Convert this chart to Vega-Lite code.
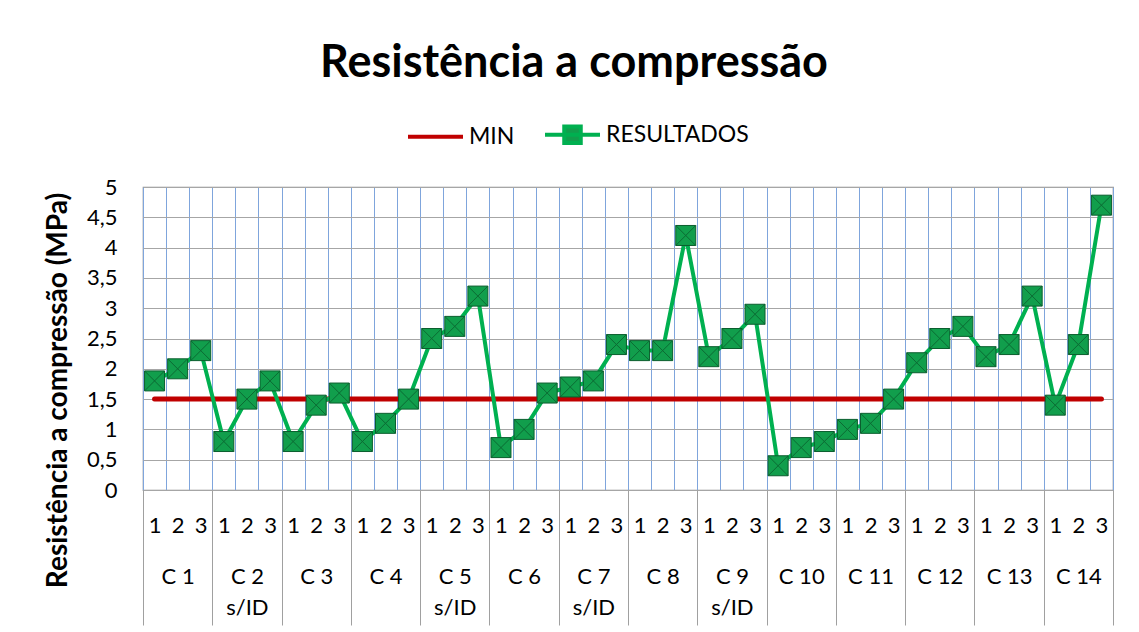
{
  "$schema": "https://vega.github.io/schema/vega-lite/v6.json",
  "width": 970,
  "height": 303,
  "autosize": {"type": "none"},
  "padding": {"left": 143, "top": 187, "right": 26, "bottom": 142},
  "background": "white",
  "title": {"text": "Resistência a compressão", "font": "Lato", "fontSize": 45, "fontWeight": "bold", "color": "#000000", "anchor": "middle", "frame": "group", "dx": -54, "offset": 19},
  "data": {"values": [
    {"key": "C1-1", "g": "C 1", "v": 1.8, "min": 1.5},
    {"key": "C1-2", "g": "C 1", "v": 2.0, "min": 1.5},
    {"key": "C1-3", "g": "C 1", "v": 2.3, "min": 1.5},
    {"key": "C2-1", "g": "C 2|s/ID", "v": 0.8, "min": 1.5},
    {"key": "C2-2", "g": "C 2|s/ID", "v": 1.5, "min": 1.5},
    {"key": "C2-3", "g": "C 2|s/ID", "v": 1.8, "min": 1.5},
    {"key": "C3-1", "g": "C 3", "v": 0.8, "min": 1.5},
    {"key": "C3-2", "g": "C 3", "v": 1.4, "min": 1.5},
    {"key": "C3-3", "g": "C 3", "v": 1.6, "min": 1.5},
    {"key": "C4-1", "g": "C 4", "v": 0.8, "min": 1.5},
    {"key": "C4-2", "g": "C 4", "v": 1.1, "min": 1.5},
    {"key": "C4-3", "g": "C 4", "v": 1.5, "min": 1.5},
    {"key": "C5-1", "g": "C 5|s/ID", "v": 2.5, "min": 1.5},
    {"key": "C5-2", "g": "C 5|s/ID", "v": 2.7, "min": 1.5},
    {"key": "C5-3", "g": "C 5|s/ID", "v": 3.2, "min": 1.5},
    {"key": "C6-1", "g": "C 6", "v": 0.7, "min": 1.5},
    {"key": "C6-2", "g": "C 6", "v": 1.0, "min": 1.5},
    {"key": "C6-3", "g": "C 6", "v": 1.6, "min": 1.5},
    {"key": "C7-1", "g": "C 7|s/ID", "v": 1.7, "min": 1.5},
    {"key": "C7-2", "g": "C 7|s/ID", "v": 1.8, "min": 1.5},
    {"key": "C7-3", "g": "C 7|s/ID", "v": 2.4, "min": 1.5},
    {"key": "C8-1", "g": "C 8", "v": 2.3, "min": 1.5},
    {"key": "C8-2", "g": "C 8", "v": 2.3, "min": 1.5},
    {"key": "C8-3", "g": "C 8", "v": 4.2, "min": 1.5},
    {"key": "C9-1", "g": "C 9|s/ID", "v": 2.2, "min": 1.5},
    {"key": "C9-2", "g": "C 9|s/ID", "v": 2.5, "min": 1.5},
    {"key": "C9-3", "g": "C 9|s/ID", "v": 2.9, "min": 1.5},
    {"key": "C10-1", "g": "C 10", "v": 0.4, "min": 1.5},
    {"key": "C10-2", "g": "C 10", "v": 0.7, "min": 1.5},
    {"key": "C10-3", "g": "C 10", "v": 0.8, "min": 1.5},
    {"key": "C11-1", "g": "C 11", "v": 1.0, "min": 1.5},
    {"key": "C11-2", "g": "C 11", "v": 1.1, "min": 1.5},
    {"key": "C11-3", "g": "C 11", "v": 1.5, "min": 1.5},
    {"key": "C12-1", "g": "C 12", "v": 2.1, "min": 1.5},
    {"key": "C12-2", "g": "C 12", "v": 2.5, "min": 1.5},
    {"key": "C12-3", "g": "C 12", "v": 2.7, "min": 1.5},
    {"key": "C13-1", "g": "C 13", "v": 2.2, "min": 1.5},
    {"key": "C13-2", "g": "C 13", "v": 2.4, "min": 1.5},
    {"key": "C13-3", "g": "C 13", "v": 3.2, "min": 1.5},
    {"key": "C14-1", "g": "C 14", "v": 1.4, "min": 1.5},
    {"key": "C14-2", "g": "C 14", "v": 2.4, "min": 1.5},
    {"key": "C14-3", "g": "C 14", "v": 4.7, "min": 1.5}
  ]},
  "layer": [
    {
      "layer": [
        {
          "mark": {"type": "line", "strokeWidth": 5, "strokeCap": "round"},
          "encoding": {
            "x": {"field": "key", "type": "nominal", "sort": null, "scale": {"type": "band", "paddingInner": 0, "paddingOuter": 0},
              "axis": {"orient": "bottom", "title": null, "labelExpr": "slice(datum.label, -1)", "labelAngle": 0, "ticks": false, "domain": false, "grid": true, "gridColor": "#7FA5DC", "gridWidth": 1, "tickBand": "extent", "labelFont": "Lato", "labelFontSize": 22, "labelColor": "#000000", "labelPadding": 25, "labelBaseline": "top", "labelOverlap": false, "offset": 0}},
            "y": {"field": "min", "type": "quantitative", "title": "Resistência a compressão (MPa)", "scale": {"domain": [0, 5], "nice": false}},
            "color": {"datum": "MIN", "type": "nominal", "scale": {"domain": ["MIN", "RESULTADOS"], "range": ["#C00000", "#00B050"]},
              "legend": {"orient": "none", "legendX": 263, "legendY": -82, "direction": "horizontal", "title": null, "symbolSize": 3025, "symbolType": "M-1,0H1", "symbolStrokeWidth": 4, "labelFont": "Lato", "labelFontSize": 23, "labelColor": "#000000", "labelOffset": 4, "columnPadding": 22, "padding": 0,
                "encode": {"symbols": {"update": {
                  "shape": {"signal": "datum.value === 'RESULTADOS' ? 'M-1,0H1M-0.3,-0.3H0.3V0.3H-0.3Z' : 'M-1,0H1'"},
                  "fill": {"signal": "datum.value === 'RESULTADOS' ? '#119E4C' : 'transparent'"}
                }}}}}
          }
        },
        {
          "mark": {"type": "line", "strokeWidth": 4},
          "encoding": {
            "x": {"field": "key", "type": "nominal", "sort": null},
            "y": {"field": "v", "type": "quantitative", "title": "Resistência a compressão (MPa)"},
            "color": {"datum": "RESULTADOS", "type": "nominal"}
          }
        },
        {
          "mark": {"type": "point", "shape": "square", "size": 400, "filled": true, "fill": "#119E4C", "stroke": "#0B5E2E", "strokeWidth": 1, "opacity": 1},
          "encoding": {
            "x": {"field": "key", "type": "nominal", "sort": null},
            "y": {"field": "v", "type": "quantitative", "title": "Resistência a compressão (MPa)"}
          }
        },
        {
          "mark": {"type": "point", "shape": "M-1,-1L1,1M1,-1L-1,1", "size": 400, "filled": false, "stroke": "#0B5E2E", "strokeWidth": 1, "opacity": 0.8},
          "encoding": {
            "x": {"field": "key", "type": "nominal", "sort": null},
            "y": {"field": "v", "type": "quantitative", "title": "Resistência a compressão (MPa)"}
          }
        }
      ]
    },
    {
      "mark": {"type": "point", "opacity": 0},
      "encoding": {
        "x": {"field": "g", "type": "nominal", "sort": null, "scale": {"type": "band", "paddingInner": 0, "paddingOuter": 0},
          "axis": {"orient": "bottom", "title": null, "labelExpr": "split(datum.label, '|')", "labelAngle": 0, "ticks": true, "tickBand": "extent", "tickSize": 135, "tickColor": "#A0A0A0", "tickWidth": 1, "domain": false, "grid": false, "labelPadding": -59, "labelBaseline": "top", "labelLineHeight": 31, "labelFont": "Lato", "labelFontSize": 22, "labelColor": "#000000", "labelOverlap": false, "offset": 0}},
        "y": {"field": "v", "type": "quantitative", "title": "Resistência a compressão (MPa)"}
      }
    }
  ],
  "resolve": {"scale": {"x": "independent"}, "axis": {"x": "independent"}},
  "config": {
    "font": "Lato",
    "view": {"stroke": "#8C8C8C", "strokeWidth": 1.2},
    "axisY": {"values": [0, 0.5, 1, 1.5, 2, 2.5, 3, 3.5, 4, 4.5, 5], "labelExpr": "replace(format(datum.value, '~g'), '.', ',')", "ticks": false, "domain": false, "grid": true, "gridColor": "#A6A6A6", "gridWidth": 1.2, "labelFont": "Lato", "labelFontSize": 22, "labelColor": "#000000", "labelPadding": 26, "titleFont": "Lato", "titleFontSize": 28, "titleFontWeight": "bold", "titleColor": "#000000", "titlePadding": 14, "titleY": 203}
  }
}
